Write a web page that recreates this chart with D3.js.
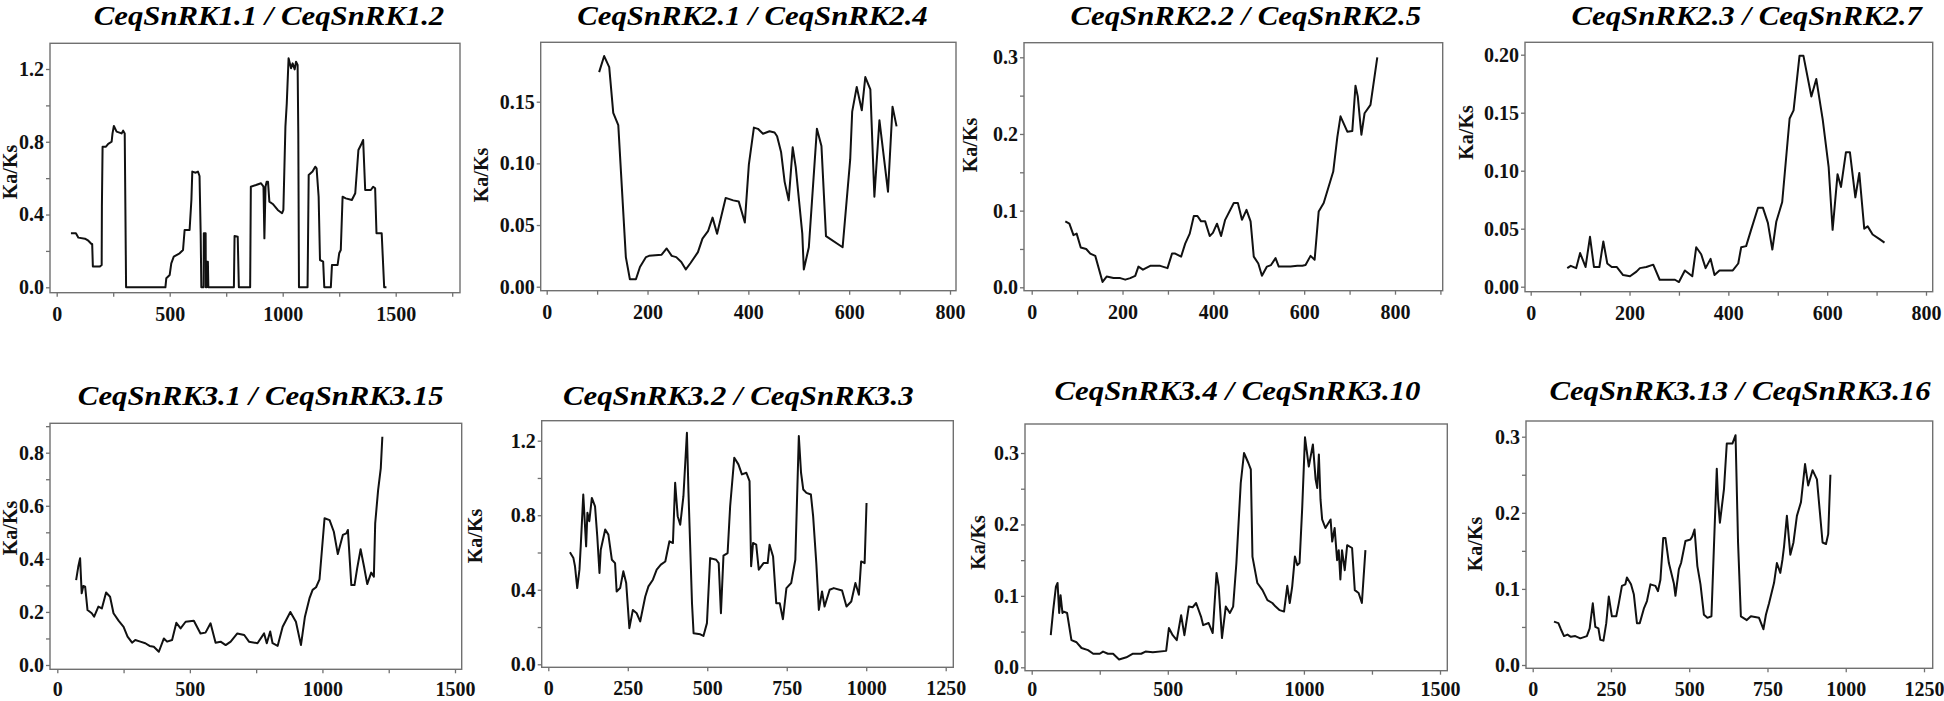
<!DOCTYPE html>
<html><head><meta charset="utf-8">
<script src="https://cdn.jsdelivr.net/npm/d3@7"></script>
<style>
html,body{margin:0;padding:0;background:#fff;}
svg{display:block;}
</style></head><body>
<svg id="chart" width="1944" height="701"></svg>
<script>
// ---------------- DATA ----------------
const titles = [
  "CeqSnRK1.1 / CeqSnRK1.2", "CeqSnRK2.1 / CeqSnRK2.4", "CeqSnRK2.2 / CeqSnRK2.5", "CeqSnRK2.3 / CeqSnRK2.7",
  "CeqSnRK3.1 / CeqSnRK3.15", "CeqSnRK3.2 / CeqSnRK3.3", "CeqSnRK3.4 / CeqSnRK3.10", "CeqSnRK3.13 / CeqSnRK3.16"
];
const yLabel = "Ka/Ks";

// [position, Ka/Ks]
const kaks_1_1_vs_1_2 = [[63,0.297],[85,0.297],[96,0.273],[125,0.267],[140,0.256],[154,0.238],[157,0.238],[160,0.114],[191,0.114],[199,0.123],[200,0.443],[203,0.773],[218,0.773],[228,0.788],[243,0.80],[247,0.846],[253,0.887],[265,0.856],[287,0.846],[294,0.861],[301,0.846],[304,0.425],[307,0],[481,0],[485,0.05],[500,0.068],[507,0.132],[518,0.169],[544,0.187],[559,0.205],[566,0.315],[588,0.315],[596,0.48],[600,0.636],[615,0.63],[625,0.636],[632,0.612],[637,0.297],[640,0],[650,0],[651,0.297],[659,0.297],[660,0],[663,0],[665,0.141],[669,0.141],[671,0],[784,0],[787,0.282],[801,0.278],[806,0],[856,0],[859,0.553],[882,0.562],[904,0.572],[915,0.553],[919,0.269],[924,0.553],[929,0.58],[935,0.58],[941,0.471],[956,0.458],[978,0.425],[997,0.407],[1003,0.425],[1012,0.883],[1018,1.011],[1026,1.259],[1037,1.204],[1044,1.231],[1053,1.198],[1059,1.240],[1066,1.222],[1069,0.846],[1072,0],[1110,0],[1115,0.617],[1132,0.636],[1144,0.663],[1150,0.654],[1159,0.498],[1165,0.150],[1179,0.141],[1184,0],[1213,0],[1218,0.123],[1243,0.123],[1250,0.187],[1257,0.205],[1265,0.498],[1279,0.489],[1306,0.48],[1321,0.517],[1335,0.755],[1346,0.782],[1356,0.81],[1365,0.535],[1390,0.535],[1400,0.553],[1409,0.544],[1415,0.297],[1438,0.297],[1449,0],[1459,0]];

const kaks_2_1_vs_2_4 = [[104,0.174],[114,0.187],[124,0.178],[132,0.141],[142,0.131],[157,0.024],[165,0.006],[177,0.006],[185,0.016],[197,0.024],[203,0.025],[228,0.026],[238,0.031],[248,0.025],[257,0.024],[267,0.020],[276,0.014],[285,0.019],[300,0.028],[309,0.039],[320,0.045],[329,0.056],[338,0.043],[355,0.072],[370,0.070],[381,0.069],[393,0.052],[401,0.099],[411,0.129],[419,0.128],[429,0.124],[442,0.126],[452,0.125],[457,0.122],[465,0.109],[472,0.085],[480,0.070],[488,0.113],[494,0.097],[507,0.043],[510,0.014],[520,0.032],[536,0.128],[545,0.114],[554,0.041],[587,0.032],[602,0.103],[606,0.142],[615,0.162],[625,0.143],[632,0.170],[642,0.160],[650,0.073],[660,0.135],[677,0.077],[686,0.146],[694,0.130]];

const kaks_2_2_vs_2_5 = [[74,0.086],[83,0.083],[92,0.068],[99,0.070],[108,0.052],[120,0.050],[129,0.044],[140,0.041],[156,0.007],[165,0.014],[180,0.012],[195,0.012],[206,0.010],[217,0.012],[228,0.015],[235,0.027],[245,0.023],[261,0.028],[283,0.028],[299,0.025],[309,0.044],[316,0.044],[329,0.040],[338,0.057],[348,0.070],[357,0.093],[365,0.093],[373,0.086],[382,0.086],[392,0.067],[399,0.071],[408,0.083],[417,0.067],[426,0.088],[445,0.110],[454,0.110],[463,0.088],[473,0.101],[482,0.086],[489,0.040],[499,0.031],[507,0.015],[518,0.027],[527,0.029],[537,0.038],[544,0.027],[570,0.027],[585,0.028],[596,0.028],[603,0.029],[614,0.041],[623,0.036],[632,0.099],[643,0.110],[664,0.151],[673,0.196],[680,0.223],[695,0.203],[706,0.204],[713,0.263],[718,0.249],[726,0.199],[733,0.227],[746,0.238],[761,0.300]];

const kaks_2_3_vs_2_7 = [[74,0.016],[81,0.018],[92,0.016],[100,0.029],[111,0.017],[120,0.043],[128,0.017],[139,0.017],[147,0.039],[155,0.020],[164,0.017],[174,0.017],[187,0.010],[201,0.009],[214,0.013],[221,0.016],[234,0.017],[248,0.019],[261,0.006],[275,0.006],[292,0.006],[300,0.004],[312,0.014],[327,0.009],[335,0.034],[345,0.028],[354,0.016],[364,0.024],[372,0.010],[382,0.014],[409,0.014],[420,0.020],[426,0.034],[436,0.035],[446,0.049],[460,0.068],[470,0.068],[480,0.055],[489,0.032],[497,0.056],[509,0.073],[524,0.145],[532,0.152],[544,0.199],[552,0.199],[568,0.164],[578,0.179],[591,0.144],[603,0.103],[611,0.049],[621,0.097],[628,0.086],[638,0.116],[646,0.116],[657,0.077],[665,0.098],[675,0.050],[682,0.052],[692,0.045],[706,0.041],[716,0.038]];

const kaks_3_1_vs_3_15 = [[71,0.320],[79,0.370],[86,0.402],[92,0.270],[98,0.298],[105,0.295],[114,0.207],[130,0.195],[139,0.182],[155,0.220],[168,0.213],[184,0.273],[199,0.257],[212,0.195],[231,0.167],[250,0.144],[265,0.107],[282,0.084],[294,0.094],[313,0.088],[332,0.082],[348,0.072],[364,0.069],[383,0.050],[402,0.100],[414,0.088],[433,0.094],[449,0.159],[465,0.138],[484,0.163],[515,0.167],[540,0.119],[559,0.122],[578,0.157],[597,0.084],[616,0.088],[635,0.075],[654,0.088],[679,0.119],[705,0.113],[723,0.088],[755,0.082],[780,0.119],[790,0.082],[803,0.126],[812,0.082],[831,0.072],[850,0.144],[879,0.200],[900,0.163],[919,0.075],[934,0.182],[951,0.251],[963,0.283],[976,0.293],[989,0.323],[1008,0.553],[1027,0.546],[1043,0.502],[1058,0.418],[1077,0.490],[1090,0.496],[1096,0.509],[1109,0.301],[1121,0.301],[1131,0.364],[1144,0.436],[1157,0.370],[1169,0.305],[1184,0.348],[1194,0.333],[1199,0.534],[1210,0.659],[1220,0.741],[1226,0.860]];

const kaks_3_2_vs_3_3 = [[68,0.601],[79,0.570],[84,0.526],[91,0.409],[98,0.508],[102,0.633],[110,0.911],[119,0.633],[123,0.813],[129,0.768],[137,0.893],[147,0.848],[154,0.687],[161,0.490],[165,0.615],[179,0.723],[189,0.696],[200,0.561],[210,0.543],[215,0.391],[226,0.409],[236,0.499],[245,0.436],[255,0.194],[266,0.292],[278,0.274],[289,0.230],[305,0.364],[315,0.418],[329,0.454],[341,0.508],[354,0.535],[368,0.552],[381,0.660],[392,0.651],[399,0.974],[407,0.795],[415,0.749],[425,0.902],[436,1.243],[441,0.920],[452,0.328],[457,0.167],[478,0.161],[488,0.152],[499,0.221],[509,0.570],[528,0.561],[536,0.543],[543,0.274],[551,0.583],[564,0.597],[572,0.848],[585,1.109],[598,1.073],[609,1.019],[623,1.028],[633,0.983],[638,0.526],[644,0.651],[654,0.642],[662,0.508],[677,0.543],[690,0.543],[696,0.642],[707,0.579],[717,0.328],[728,0.328],[738,0.242],[749,0.409],[764,0.436],[777,0.561],[788,1.225],[795,1.028],[802,0.938],[812,0.920],[826,0.911],[833,0.795],[843,0.543],[851,0.292],[861,0.391],[869,0.310],[885,0.400],[898,0.409],[924,0.396],[938,0.310],[953,0.337],[966,0.436],[977,0.373],[984,0.552],[995,0.543],[1001,0.866]];

const kaks_3_4_vs_3_10 = [[70,0.045],[79,0.080],[89,0.113],[95,0.118],[101,0.076],[106,0.101],[113,0.076],[118,0.078],[130,0.076],[146,0.038],[165,0.035],[183,0.027],[207,0.024],[226,0.019],[250,0.019],[262,0.022],[280,0.019],[299,0.019],[321,0.011],[348,0.014],[372,0.019],[402,0.019],[418,0.022],[445,0.021],[494,0.023],[504,0.055],[518,0.045],[533,0.038],[549,0.073],[561,0.045],[577,0.085],[591,0.084],[604,0.090],[622,0.071],[630,0.059],[650,0.062],[665,0.048],[679,0.132],[687,0.113],[699,0.041],[713,0.085],[728,0.076],[740,0.085],[752,0.146],[768,0.258],[780,0.300],[796,0.286],[805,0.277],[811,0.155],[829,0.118],[848,0.108],[866,0.094],[884,0.090],[896,0.085],[911,0.080],[927,0.078],[939,0.114],[948,0.090],[957,0.113],[967,0.155],[976,0.143],[984,0.146],[994,0.225],[1004,0.322],[1018,0.281],[1033,0.312],[1043,0.263],[1049,0.251],[1055,0.298],[1061,0.235],[1067,0.207],[1079,0.195],[1098,0.207],[1104,0.176],[1113,0.195],[1122,0.150],[1128,0.164],[1134,0.123],[1140,0.164],[1150,0.136],[1159,0.171],[1177,0.167],[1187,0.108],[1201,0.104],[1213,0.090],[1226,0.164]];

const kaks_3_13_vs_3_16 = [[68,0.057],[82,0.055],[90,0.047],[100,0.038],[111,0.040],[122,0.037],[136,0.038],[152,0.035],[173,0.038],[182,0.048],[192,0.081],[200,0.050],[210,0.048],[216,0.033],[226,0.032],[235,0.055],[243,0.090],[253,0.064],[267,0.064],[275,0.081],[285,0.104],[296,0.106],[301,0.115],[314,0.106],[323,0.093],[333,0.055],[342,0.055],[355,0.074],[365,0.084],[376,0.106],[392,0.104],[400,0.097],[408,0.112],[417,0.167],[424,0.167],[435,0.134],[451,0.107],[456,0.091],[467,0.126],[474,0.134],[488,0.163],[504,0.165],[510,0.169],[517,0.178],[526,0.130],[536,0.106],[547,0.066],[558,0.062],[571,0.064],[579,0.156],[588,0.258],[592,0.218],[598,0.187],[611,0.231],[620,0.291],[638,0.291],[648,0.302],[656,0.161],[665,0.064],[684,0.059],[697,0.064],[723,0.062],[737,0.047],[745,0.066],[755,0.081],[771,0.108],[780,0.134],[791,0.121],[798,0.139],[803,0.156],[812,0.196],[823,0.145],[833,0.161],[844,0.196],[857,0.214],[870,0.264],[880,0.236],[894,0.256],[908,0.244],[926,0.161],[937,0.159],[944,0.172],[951,0.250]];

const series = [kaks_1_1_vs_1_2, kaks_2_1_vs_2_4, kaks_2_2_vs_2_5, kaks_2_3_vs_2_7,
                kaks_3_1_vs_3_15, kaks_3_2_vs_3_3, kaks_3_4_vs_3_10, kaks_3_13_vs_3_16];

// tick labels / values
const yTicks = [[0,0.4,0.8,1.2],[0,0.05,0.10,0.15],[0,0.1,0.2,0.3],[0,0.05,0.10,0.15,0.20],
                [0,0.2,0.4,0.6,0.8],[0,0.4,0.8,1.2],[0,0.1,0.2,0.3],[0,0.1,0.2,0.3]];
const yMinorTicks = [[0.2,0.6,1.0],[],[0.05,0.15,0.25],[],
                     [0.1,0.3,0.5,0.7,0.9],[0.2,0.6,1.0],[0.05,0.15,0.25],[0.05,0.15,0.25]];
const yTickFormat = [".1f",".2f",".1f",".2f",".1f",".1f",".1f",".1f"];
const xTicks = [[0,500,1000,1500],[0,200,400,600,800],[0,200,400,600,800],[0,200,400,600,800],
                [0,500,1000,1500],[0,250,500,750,1000,1250],[0,500,1000,1500],[0,250,500,750,1000,1250]];
const xMinorTicks = [[250,750,1250,1750],[100,300,500,700],[100,300,500,700,900],[100,300,500,700],
                     [250,750,1250],[],[250,750,1250],[]];

// ---------------- LAYOUT (pixels) ----------------
const layout = [
  {box:[50,460,43.3,292.7],    xcal:[[0,56.7],[1500,395.7]],  ycal:[[0,287.3],[1.2,69]],   title:[269,24.5],   ylab:[10,172]},
  {box:[540.7,956,42.3,290.7], xcal:[[0,546.7],[800,950]],    ycal:[[0,286.7],[0.15,101.7]], title:[752.5,24.5], ylab:[481,175]},
  {box:[1024,1442.7,42.7,290.7], xcal:[[0,1031.7],[800,1395]], ycal:[[0,287.3],[0.3,57.3]], title:[1245.8,24.5], ylab:[970,145]},
  {box:[1525,1932.7,42.3,291.7], xcal:[[0,1530.7],[800,1926]], ycal:[[0,286.7],[0.2,54.7]], title:[1746.7,24.5], ylab:[1466,132.5]},
  {box:[50,461.7,423.3,669.3], xcal:[[0,57.3],[1500,455]],    ycal:[[0,665],[0.8,452.7]],  title:[260.8,405],  ylab:[10,528]},
  {box:[541.7,953.3,420.7,667.3], xcal:[[0,548.3],[1250,945.7]], ycal:[[0,664.3],[1.2,440.7]], title:[738.3,405], ylab:[475,536]},
  {box:[1025,1447.3,424,670.7], xcal:[[0,1031.7],[1500,1440]], ycal:[[0,667.3],[0.3,453]], title:[1237.5,400], ylab:[978,542.5]},
  {box:[1526,1932.7,421,668.3], xcal:[[0,1532.7],[1250,1924]], ycal:[[0,665],[0.3,436.7]], title:[1740,400], ylab:[1475,544]}
];

// ---------------- DRAW ----------------
const svg = d3.select("#chart");
const gray = "#707070";
const fontFam = "'Liberation Serif','Times New Roman',serif";
const H = 701;

series.forEach((data, i) => {
  const L = layout[i];
  const [bx0, bx1, by0, by1] = L.box;
  const x = d3.scaleLinear().domain([L.xcal[0][0], L.xcal[1][0]]).range([L.xcal[0][1], L.xcal[1][1]]);
  const y = d3.scaleLinear().domain([L.ycal[0][0], L.ycal[1][0]]).range([L.ycal[0][1], L.ycal[1][1]]);
  const g = svg.append("g");

  // frame
  g.append("rect").attr("x", bx0).attr("y", by0).attr("width", bx1 - bx0).attr("height", by1 - by0)
    .attr("fill", "none").attr("stroke", gray).attr("stroke-width", 1.4);

  const styleAxis = sel => {
    sel.select(".domain").remove();
    sel.selectAll(".tick line").attr("stroke", gray).attr("stroke-width", 1.3);
    sel.selectAll(".tick text").attr("fill", "#111").style("font-family", fontFam)
      .style("font-weight", "bold").style("font-size", "20px");
  };

  // keep x tick labels inside the picture
  const xPad = Math.min(10, (H - 5) - by1 - 4 - 14.2);

  // x axis
  g.append("g").attr("transform", `translate(0,${by1})`)
    .call(d3.axisBottom(x).tickValues(xTicks[i]).tickSize(4).tickPadding(xPad).tickFormat(d3.format("d")))
    .call(styleAxis);
  if (xMinorTicks[i].length)
    g.append("g").attr("transform", `translate(0,${by1})`)
      .call(d3.axisBottom(x).tickValues(xMinorTicks[i]).tickSize(4).tickFormat(() => ""))
      .call(styleAxis);

  // y axis
  g.append("g").attr("transform", `translate(${bx0},0)`)
    .call(d3.axisLeft(y).tickValues(yTicks[i]).tickSize(4).tickPadding(2).tickFormat(d3.format(yTickFormat[i])))
    .call(styleAxis);
  if (yMinorTicks[i].length)
    g.append("g").attr("transform", `translate(${bx0},0)`)
      .call(d3.axisLeft(y).tickValues(yMinorTicks[i]).tickSize(4).tickFormat(() => ""))
      .call(styleAxis);

  // line
  g.append("path").datum(data)
    .attr("d", d3.line().x(d => x(d[0])).y(d => y(d[1])))
    .attr("fill", "none").attr("stroke", "#111").attr("stroke-width", 2)
    .attr("stroke-linejoin", "round");

  // title (horizontally widened like the reference)
  g.append("text").attr("transform", `translate(${L.title[0]},${L.title[1]}) scale(1.14,1)`)
    .attr("text-anchor", "middle").attr("fill", "#000")
    .style("font-family", fontFam).style("font-weight", "bold").style("font-style", "italic")
    .style("font-size", "27px").text(titles[i]);

  // y label
  g.append("text").attr("transform", `translate(${L.ylab[0]},${L.ylab[1]}) rotate(-90)`)
    .attr("text-anchor", "middle").attr("dy", "0.33em").attr("fill", "#111")
    .style("font-family", fontFam).style("font-weight", "bold").style("font-size", "20px")
    .text(yLabel);
});
</script>
</body></html>
